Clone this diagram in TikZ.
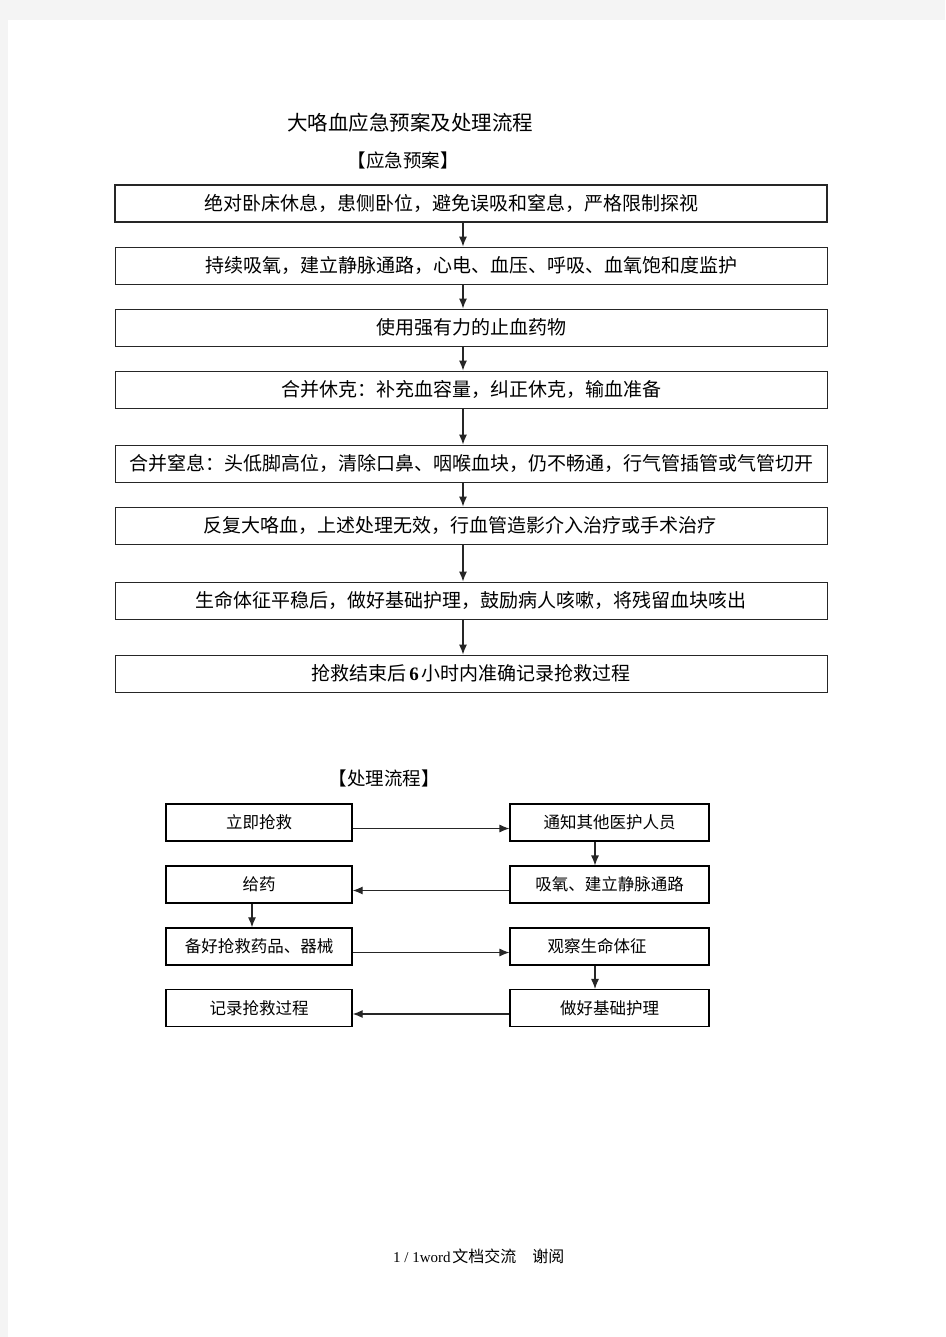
\documentclass[tikz,border=0pt]{standalone}
\usepackage{fontspec}
\setmainfont{Liberation Serif}
\newfontfamily\cjk{Noto Sans CJK SC}
\newfontfamily\latin{Liberation Serif}
\usetikzlibrary{arrows.meta}
\definecolor{bgg}{HTML}{F4F4F4}
\begin{document}
\begin{tikzpicture}[x=1pt,y=-1pt,
  ubox/.style={draw=black!85,line width=0.9pt,minimum width=712pt,minimum height=37pt,inner sep=0pt,font=\cjk\fontsize{19}{19}\selectfont},
  lbox/.style={draw=black,line width=1.4pt,minimum height=37pt,inner sep=0pt,font=\cjk\fontsize{16.5}{16.5}\selectfont},
  rbox/.style={lbox,line width=1.1pt},
  arr/.style={line width=1.1pt,draw=black!85,-{Latex[length=10pt,width=8pt]}},
  ttl/.style={inner sep=0pt,font=\cjk\fontsize{20.5}{20.5}\selectfont}]
\useasboundingbox (0,0) rectangle (945,1337);
\fill[bgg] (0,0) rectangle (945,1337);
\fill[white] (8,20) rectangle (945,1337);
\node[ttl] (title) at (410,123) {大咯血应急预案及处理流程};
\node[inner sep=0pt,font=\cjk\fontsize{18.5}{18.5}\selectfont] (h1) at (403,160) {【应急预案】};
\node[ubox,line width=1.7pt] (b1) at (471,203.5) {\hspace*{-40pt}绝对卧床休息，患侧卧位，避免误吸和窒息，严格限制探视};
\node[ubox] (b2) at (471,265.5) {持续吸氧，建立静脉通路，心电、血压、呼吸、血氧饱和度监护};
\node[ubox] (b3) at (471,327.5) {使用强有力的止血药物};
\node[ubox] (b4) at (471,389.5) {合并休克：补充血容量，纠正休克，输血准备};
\node[ubox] (b5) at (471,463.5) {合并窒息：头低脚高位，清除口鼻、咽喉血块，仍不畅通，行气管插管或气管切开};
\node[ubox] (b6) at (471,525.5) {\hspace*{-22pt}反复大咯血，上述处理无效，行血管造影介入治疗或手术治疗};
\node[ubox] (b7) at (471,600.5) {生命体征平稳后，做好基础护理，鼓励病人咳嗽，将残留血块咳出};
\node[ubox] (b8) at (471,673.5) {抢救结束后\,{\latin\bfseries 6}\,小时内准确记录抢救过程};
\foreach \a/\b in {b1/b2,b2/b3,b3/b4,b4/b5,b5/b6,b6/b7,b7/b8}
  \draw[arr] ([xshift=-8pt]\a.south) -- ([xshift=-8pt]\b.north);
\node[inner sep=0pt,font=\cjk\fontsize{18.5}{18.5}\selectfont] (h2) at (384,778) {【处理流程】};
\node[lbox,minimum width=186pt] (l1) at (259,822.5) {立即抢救};
\node[rbox,minimum width=199pt] (r1) at (609.5,822.5) {通知其他医护人员};
\node[lbox,minimum width=186pt] (l2) at (259,884.5) {给药};
\node[rbox,minimum width=199pt] (r2) at (609.5,884.5) {吸氧、建立静脉通路};
\node[lbox,minimum width=186pt] (l3) at (259,946.5) {备好抢救药品、器械};
\node[rbox,minimum width=199pt] (r3) at (609.5,946.5) {\hspace*{-25pt}观察生命体征};
\node[lbox,minimum width=186pt] (l4) at (259,1008) {记录抢救过程};
\node[rbox,minimum width=199pt] (r4) at (609.5,1008) {做好基础护理};
\draw[arr] ([yshift=-6pt]l1.east) -- ([yshift=-6pt]r1.west);
\draw[arr] ([yshift=-6pt]r2.west) -- ([yshift=-6pt]l2.east);
\draw[arr] ([yshift=-6pt]l3.east) -- ([yshift=-6pt]r3.west);
\draw[arr] ([yshift=-6pt]r4.west) -- ([yshift=-6pt]l4.east);
\draw[arr] ([xshift=-14.5pt]r1.south) -- ([xshift=-14.5pt]r2.north);
\draw[arr] ([xshift=-7pt]l2.south) -- ([xshift=-7pt]l3.north);
\draw[arr] ([xshift=-14.5pt]r3.south) -- ([xshift=-14.5pt]r4.north);
\node[inner sep=0pt,anchor=base west] (foot) at (393,1262) {{\latin\fontsize{15}{15}\selectfont 1 / 1word}\,{\cjk\fontsize{16}{16}\selectfont 文档交流\hspace{16pt}谢阅}};
\end{tikzpicture}
\end{document}
